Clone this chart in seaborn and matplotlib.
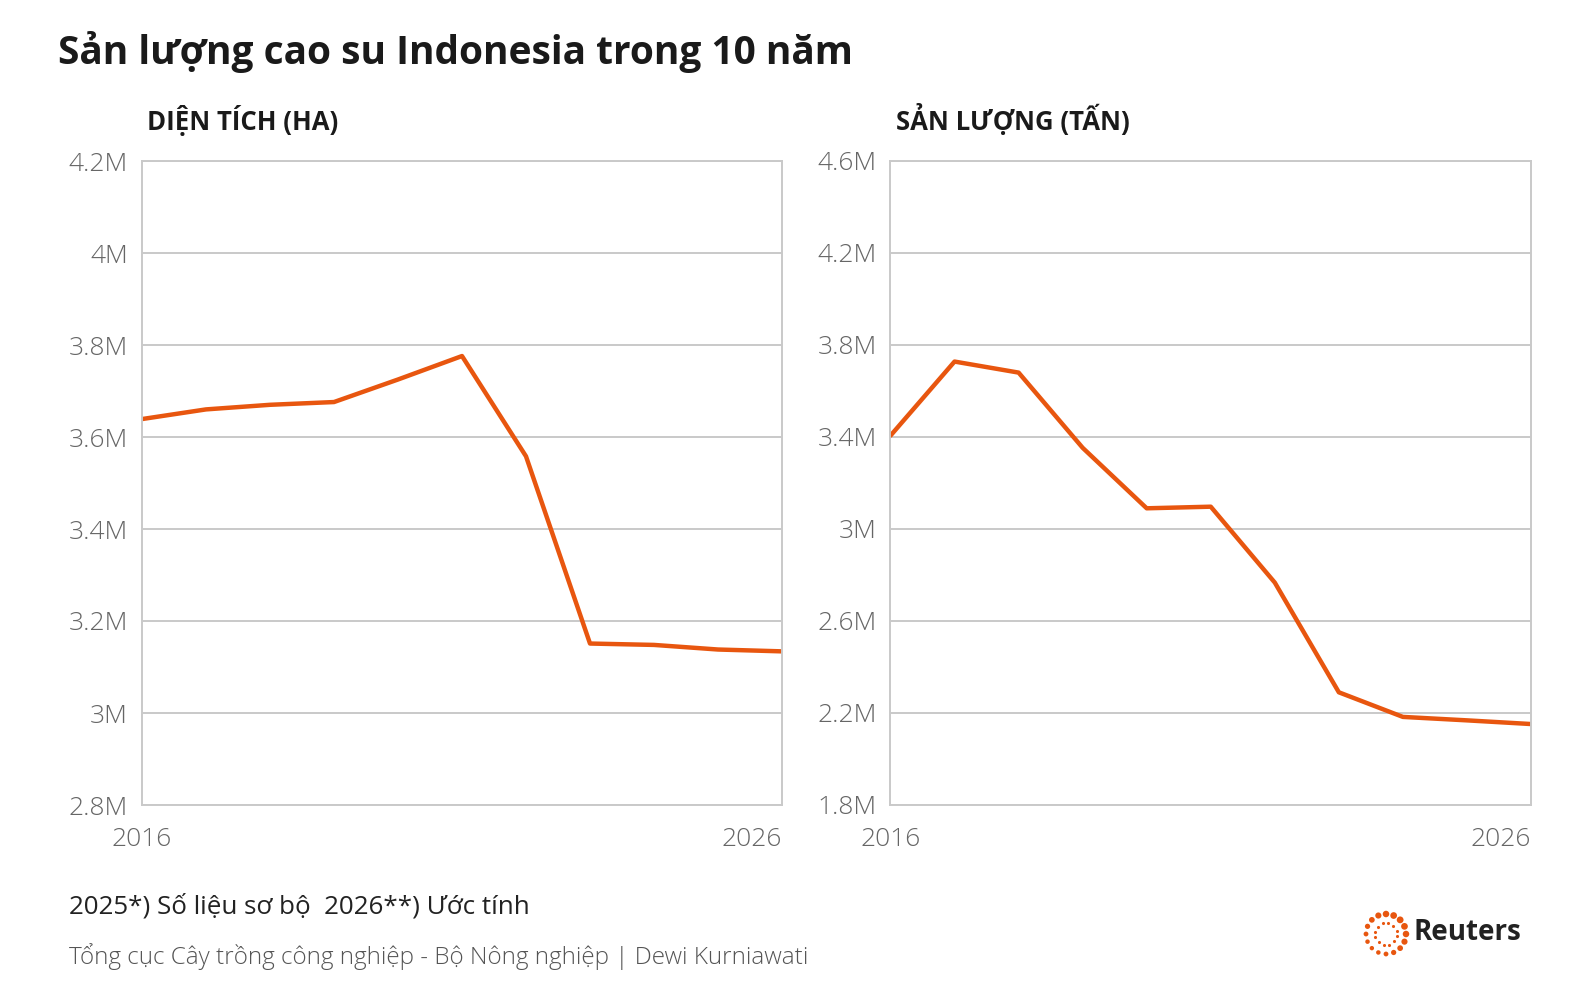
import numpy as np
import pandas as pd
import matplotlib
matplotlib.use("Agg")
import matplotlib.pyplot as plt
from matplotlib.ticker import FuncFormatter, FixedLocator
import seaborn as sns

# data (values in millions)
years = list(range(2016, 2027))
area_ha = [3.639, 3.660, 3.670, 3.676, 3.725, 3.776, 3.558, 3.151, 3.148, 3.138, 3.134]
production_t = [3.406, 3.728, 3.680, 3.353, 3.090, 3.097, 2.767, 2.290, 2.183, 2.168, 2.152]

area_ticks = [2.8, 3.0, 3.2, 3.4, 3.6, 3.8, 4.0, 4.2]
prod_ticks = [1.8, 2.2, 2.6, 3.0, 3.4, 3.8, 4.2, 4.6]

title = "Sản lượng cao su Indonesia trong 10 năm"
sub_left = "DIỆN TÍCH (HA)"
sub_right = "SẢN LƯỢNG (TẤN)"
note = "2025*) Số liệu sơ bộ  2026**) Ước tính"
source = "Tổng cục Cây trồng công nghiệp - Bộ Nông nghiệp | Dewi Kurniawati"

df = pd.DataFrame({"year": years, "area": area_ha, "prod": production_t})

sns.set_style("white")
plt.rcParams['font.family'] = ['Open Sans', 'DejaVu Sans']

W, H = 1592, 988
fig = plt.figure(figsize=(W / 100, H / 100), dpi=100)
fig.patch.set_facecolor("white")

LINE = "#e8560f"
GRID = "#c9c9c9"
TICK = "#666666"


def px(x, y):
    return x / W, 1 - y / H


def make_panel(rect, col, ticks, subtitle, sub_x):
    ax = fig.add_axes(rect)
    sns.lineplot(data=df, x="year", y=col, ax=ax, color=LINE, linewidth=3.2)
    ax.set_xlim(years[0], years[-1])
    ax.set_ylim(ticks[0], ticks[-1])
    ax.yaxis.set_major_locator(FixedLocator(ticks))
    ax.yaxis.set_major_formatter(FuncFormatter(lambda v, p: f"{v:g}M"))
    ax.set_xticks([years[0], years[-1]])
    ax.set_xticklabels([str(years[0]), str(years[-1])])
    ax.grid(axis="y", color=GRID, linewidth=1.4)
    ax.set_axisbelow(True)
    for s in ax.spines.values():
        s.set_color(GRID)
        s.set_linewidth(1.4)
    ax.tick_params(axis="y", length=0, pad=10, labelsize=19, labelcolor=TICK)
    ax.tick_params(axis="x", length=0, pad=16, labelsize=19, labelcolor=TICK)
    for lab in ax.get_yticklabels() + ax.get_xticklabels():
        lab.set_fontweight("light")
    xl = ax.get_xticklabels()
    xl[0].set_ha("center")
    xl[-1].set_ha("right")
    ax.set_xlabel("")
    ax.set_ylabel("")
    fig.text(*px(sub_x, 120), subtitle, fontsize=18.5, fontweight="bold",
             color="#1a1a1a", va="center", ha="left")
    return ax


make_panel([142 / W, 1 - 805 / H, 640 / W, 644 / H], "area", area_ticks, sub_left, 147)
make_panel([890.5 / W, 1 - 805 / H, 640.5 / W, 644 / H], "prod", prod_ticks, sub_right, 896)

fig.text(*px(58, 52), title, fontsize=28, fontweight="bold", color="#1a1a1a",
         va="center", ha="left")
fig.text(*px(69, 907), note, fontsize=18.7, color="#222222", va="center", ha="left")
fig.text(*px(69, 957), source, fontsize=17.5, color="#555555", va="center", ha="left",
         fontweight="light")

# Reuters logo
lax = fig.add_axes([1362 / W, 1 - 958 / H, 48 / W, 48 / H])
lax.set_xlim(-1.2, 1.2)
lax.set_ylim(-1.2, 1.2)
lax.set_aspect("equal")
lax.axis("off")
ang_o = np.linspace(0, 2 * np.pi, 16, endpoint=False)
size_o = 10 + 14 * (1 - np.cos(ang_o - np.pi * 1.25)) / 2
lax.scatter(np.cos(ang_o), np.sin(ang_o), s=size_o, color=LINE, linewidths=0)
ang_i = np.linspace(0.3, 2 * np.pi + 0.3, 12, endpoint=False)
lax.scatter(0.55 * np.cos(ang_i), 0.55 * np.sin(ang_i), s=5, color=LINE, linewidths=0)
fig.text(*px(1414, 933), "Reuters", fontsize=20, fontweight="bold", color="#222222",
         va="center", ha="left")

fig.savefig("out.png", dpi=100, facecolor="white")
